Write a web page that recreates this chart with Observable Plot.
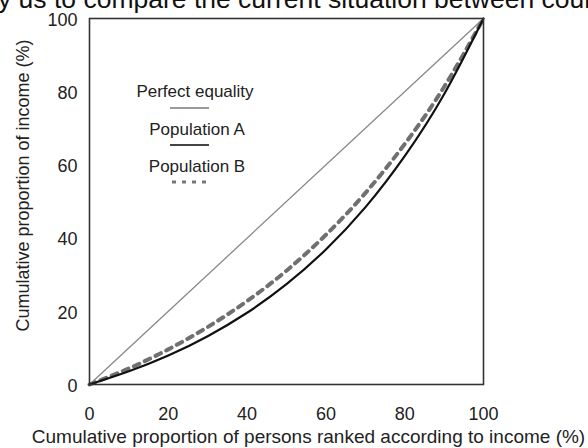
<!DOCTYPE html>
<html>
<head>
<meta charset="utf-8">
<script src="https://cdn.jsdelivr.net/npm/d3@7"></script>
<script src="https://cdn.jsdelivr.net/npm/@observablehq/plot@0.6"></script>
<style>
  html, body { margin: 0; padding: 0; background: #fff; overflow: hidden; }
  #wrap { position: relative; width: 588px; height: 448px; font-family: "Liberation Sans", Arial, sans-serif; }
  #cut { position: absolute; left: -2px; top: -14px; font-size: 26.5px; line-height: 27px; white-space: nowrap; color: #111; }
  #chart { position: absolute; left: 0; top: 0; }
  .leg { position: absolute; font-size: 17px; color: #222; white-space: nowrap; transform: translate(-50%, -50%); }
  .sample { position: absolute; }
</style>
</head>
<body>
<div id="wrap">
  <div id="chart"></div>
  <div id="cut">y us to compare the current situation between countries</div>
  <div class="leg" style="left:195px; top:92px;">Perfect equality</div>
  <svg class="sample" style="left:170px; top:104px;" width="40" height="8"><line x1="0" y1="4" x2="39" y2="4" stroke="#777" stroke-width="1.6"/></svg>
  <div class="leg" style="left:197px; top:130px;">Population A</div>
  <svg class="sample" style="left:170px; top:141px;" width="40" height="8"><line x1="0" y1="4" x2="39" y2="4" stroke="#444" stroke-width="1.8"/></svg>
  <div class="leg" style="left:197px; top:167px;">Population B</div>
  <svg class="sample" style="left:172px; top:178px;" width="40" height="8"><line x1="0" y1="4" x2="36" y2="4" stroke="#777" stroke-width="3" stroke-dasharray="4,6"/></svg>
</div>
<script>
// Data (percent values)
const persons = [0, 10, 20, 30, 40, 50, 60, 70, 80, 90, 100];
const popA    = [0, 3.6, 7.9, 13.2, 19.6, 27.4, 36.9, 48.4, 62.4, 79.3, 100];
const popB    = [0, 4.4, 9.6, 15.7, 22.8, 31.1, 40.9, 52.3, 65.7, 81.3, 100];
const equalityX = [0, 100];
const equalityY = [0, 100];
const ticks = [0, 20, 40, 60, 80, 100];
const xTitle = "Cumulative proportion of persons ranked according to income (%)";
const yTitle = "Cumulative proportion of income (%)";

const dataA = persons.map((x, i) => ({x, y: popA[i]}));
const dataB = persons.map((x, i) => ({x, y: popB[i]}));
const dataEq = equalityX.map((x, i) => ({x, y: equalityY[i]}));

const chart = Plot.plot({
  width: 588,
  height: 448,
  marginLeft: 89,
  marginRight: 105,
  marginTop: 18,
  marginBottom: 64,
  style: { fontFamily: '"Liberation Sans", Arial, sans-serif', fontSize: "18px", color: "#222", background: "transparent" },
  x: { domain: [0, 100], ticks: ticks, tickSize: 0, tickPadding: 23, label: xTitle, labelAnchor: "center", labelOffset: 58, labelArrow: "none" },
  y: { domain: [0, 100], ticks: ticks, tickSize: 0, tickPadding: 12, label: yTitle, labelAnchor: "center", labelOffset: 73, labelArrow: "none" },
  marks: [
    Plot.line(dataEq, { x: "x", y: "y", stroke: "#888", strokeWidth: 1.3 }),
    Plot.line(dataB, { x: "x", y: "y", stroke: "#707070", strokeWidth: 4, strokeDasharray: "6,6", curve: "natural" }),
    Plot.line(dataA, { x: "x", y: "y", stroke: "#111", strokeWidth: 2.2, curve: "natural" }),
    Plot.frame({ stroke: "#333", strokeWidth: 1.6 })
  ]
});
document.getElementById("chart").appendChild(chart);

// nudge axis titles / tick labels to match reference placement
const yl = chart.querySelector('g[aria-label="y-axis label"]');
if (yl) yl.setAttribute("transform", "translate(0,-16) " + (yl.getAttribute("transform") || ""));
const xl = chart.querySelector('g[aria-label="x-axis label"]');
if (xl) {
  xl.setAttribute("transform", "translate(22,0) " + (xl.getAttribute("transform") || ""));
  xl.setAttribute("font-size", "19px");
}
const yt = chart.querySelector('g[aria-label="y-axis tick label"]');
if (yt) yt.setAttribute("transform", "translate(0,1.5) " + (yt.getAttribute("transform") || ""));
</script>
</body>
</html>
